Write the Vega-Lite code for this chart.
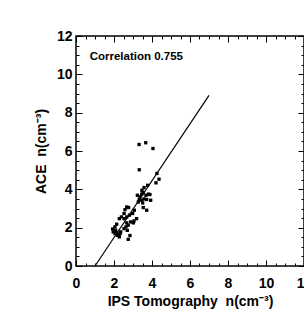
{
  "$schema": "https://vega.github.io/schema/vega-lite/v6.json",
  "autosize": "none",
  "width": 228,
  "height": 230,
  "padding": {"left": 76, "top": 36, "right": 0, "bottom": 48},
  "background": "white",
  "config": {
    "view": {"stroke": "black", "strokeWidth": 1.5},
    "font": "Liberation Sans",
    "axis": {
      "grid": false,
      "domain": false,
      "tickColor": "black",
      "tickWidth": 1,
      "labelFont": "Liberation Sans",
      "labelFontWeight": "bold",
      "labelFontSize": 14,
      "labelColor": "black",
      "titleFont": "Liberation Sans",
      "titleFontWeight": "bold",
      "titleFontSize": 14,
      "titleColor": "black"
    }
  },
  "datasets": {
    "pts": [
      {"ips": 3.32, "ace": 6.34}, {"ips": 3.67, "ace": 6.43}, {"ips": 4.05, "ace": 6.13}, {"ips": 3.33, "ace": 5.02},
      {"ips": 4.26, "ace": 4.83}, {"ips": 4.37, "ace": 4.53}, {"ips": 4.21, "ace": 4.34}, {"ips": 3.77, "ace": 4.21},
      {"ips": 3.58, "ace": 4.09}, {"ips": 3.47, "ace": 3.95}, {"ips": 3.23, "ace": 3.69}, {"ips": 3.37, "ace": 3.61},
      {"ips": 3.46, "ace": 3.75}, {"ips": 3.54, "ace": 3.83}, {"ips": 3.68, "ace": 3.69}, {"ips": 3.81, "ace": 3.75},
      {"ips": 3.89, "ace": 3.73}, {"ips": 3.33, "ace": 3.47}, {"ips": 3.46, "ace": 3.43}, {"ips": 3.58, "ace": 3.5},
      {"ips": 3.72, "ace": 3.47}, {"ips": 3.93, "ace": 3.43}, {"ips": 3.51, "ace": 3.29}, {"ips": 3.54, "ace": 3.05},
      {"ips": 3.72, "ace": 2.91}, {"ips": 3.28, "ace": 3.34}, {"ips": 3.07, "ace": 2.91}, {"ips": 2.98, "ace": 2.74},
      {"ips": 2.81, "ace": 2.65}, {"ips": 2.67, "ace": 3.08}, {"ips": 2.77, "ace": 3.05}, {"ips": 2.58, "ace": 2.94},
      {"ips": 2.53, "ace": 2.74}, {"ips": 2.39, "ace": 2.56}, {"ips": 2.53, "ace": 2.47}, {"ips": 2.28, "ace": 2.47},
      {"ips": 2.67, "ace": 2.56}, {"ips": 3.19, "ace": 2.47}, {"ips": 3.05, "ace": 2.35}, {"ips": 2.88, "ace": 2.3},
      {"ips": 2.67, "ace": 2.25}, {"ips": 3.02, "ace": 2.25}, {"ips": 2.63, "ace": 2.04}, {"ips": 2.75, "ace": 2.13},
      {"ips": 2.7, "ace": 1.86}, {"ips": 2.53, "ace": 1.95}, {"ips": 2.14, "ace": 2.18}, {"ips": 2.05, "ace": 2.04},
      {"ips": 1.93, "ace": 1.93}, {"ips": 1.96, "ace": 1.78}, {"ips": 2.05, "ace": 1.69}, {"ips": 2.14, "ace": 1.72},
      {"ips": 2.23, "ace": 1.64}, {"ips": 2.32, "ace": 1.69}, {"ips": 2.18, "ace": 1.6}, {"ips": 2.35, "ace": 1.78},
      {"ips": 2.09, "ace": 1.86}, {"ips": 2.75, "ace": 1.39}, {"ips": 2.84, "ace": 1.59}, {"ips": 2.28, "ace": 1.52}
    ],
    "fit": [
      {"ips": 1.0, "ace": 0.0},
      {"ips": 7.0, "ace": 8.9}
    ]
  },
  "resolve": {"axis": {"x": "independent", "y": "independent"}},
  "layer": [
    {
      "data": {"name": "pts"},
      "mark": {"type": "square", "filled": true, "color": "black", "size": 11, "opacity": 1},
      "encoding": {
        "x": {
          "field": "ips", "type": "quantitative",
          "scale": {"domain": [0, 12], "nice": false},
          "axis": {
            "orient": "bottom",
            "values": [0,0.5,1,1.5,2,2.5,3,3.5,4,4.5,5,5.5,6,6.5,7,7.5,8,8.5,9,9.5,10,10.5,11,11.5,12],
            "labelExpr": "datum.value % 2 === 0 ? format(datum.value, 'd') : ''",
            "tickSize": {"condition": {"test": "datum.value % 2 === 0", "value": -6}, "value": -3},
            "labelPadding": 16,
            "labelFlush": false,
            "title": "IPS Tomography\u00a0\u00a0n(cm⁻³)",
            "titlePadding": 4
          }
        },
        "y": {
          "field": "ace", "type": "quantitative",
          "scale": {"domain": [0, 12], "nice": false},
          "axis": {
            "orient": "left",
            "values": [0,0.5,1,1.5,2,2.5,3,3.5,4,4.5,5,5.5,6,6.5,7,7.5,8,8.5,9,9.5,10,10.5,11,11.5,12],
            "labelExpr": "datum.value % 2 === 0 ? format(datum.value, 'd') : ''",
            "tickSize": {"condition": {"test": "datum.value % 2 === 0", "value": -6}, "value": -3},
            "labelPadding": 10,
            "labelFlush": false,
            "title": "ACE\u00a0\u00a0n(cm⁻³)",
            "titlePadding": 8
          }
        }
      }
    },
    {
      "data": {"name": "fit"},
      "mark": {"type": "line", "color": "black", "strokeWidth": 1.2},
      "encoding": {
        "x": {
          "field": "ips", "type": "quantitative",
          "axis": {
            "orient": "top",
            "values": [0,0.5,1,1.5,2,2.5,3,3.5,4,4.5,5,5.5,6,6.5,7,7.5,8,8.5,9,9.5,10,10.5,11,11.5,12],
            "labels": false,
            "tickSize": {"condition": {"test": "datum.value % 2 === 0", "value": -6}, "value": -3},
            "title": null
          }
        },
        "y": {
          "field": "ace", "type": "quantitative",
          "axis": {
            "orient": "right",
            "values": [0,0.5,1,1.5,2,2.5,3,3.5,4,4.5,5,5.5,6,6.5,7,7.5,8,8.5,9,9.5,10,10.5,11,11.5,12],
            "labels": false,
            "tickSize": {"condition": {"test": "datum.value % 2 === 0", "value": -6}, "value": -3},
            "title": null
          }
        }
      }
    },
    {
      "data": {"values": [{"label": "Correlation 0.755"}]},
      "mark": {"type": "text", "align": "left", "baseline": "middle", "font": "Liberation Sans", "fontWeight": "bold", "fontSize": 11.5, "color": "black"},
      "encoding": {
        "x": {"datum": 0.72, "type": "quantitative", "axis": null},
        "y": {"datum": 10.9, "type": "quantitative", "axis": null},
        "text": {"field": "label"}
      }
    }
  ]
}
